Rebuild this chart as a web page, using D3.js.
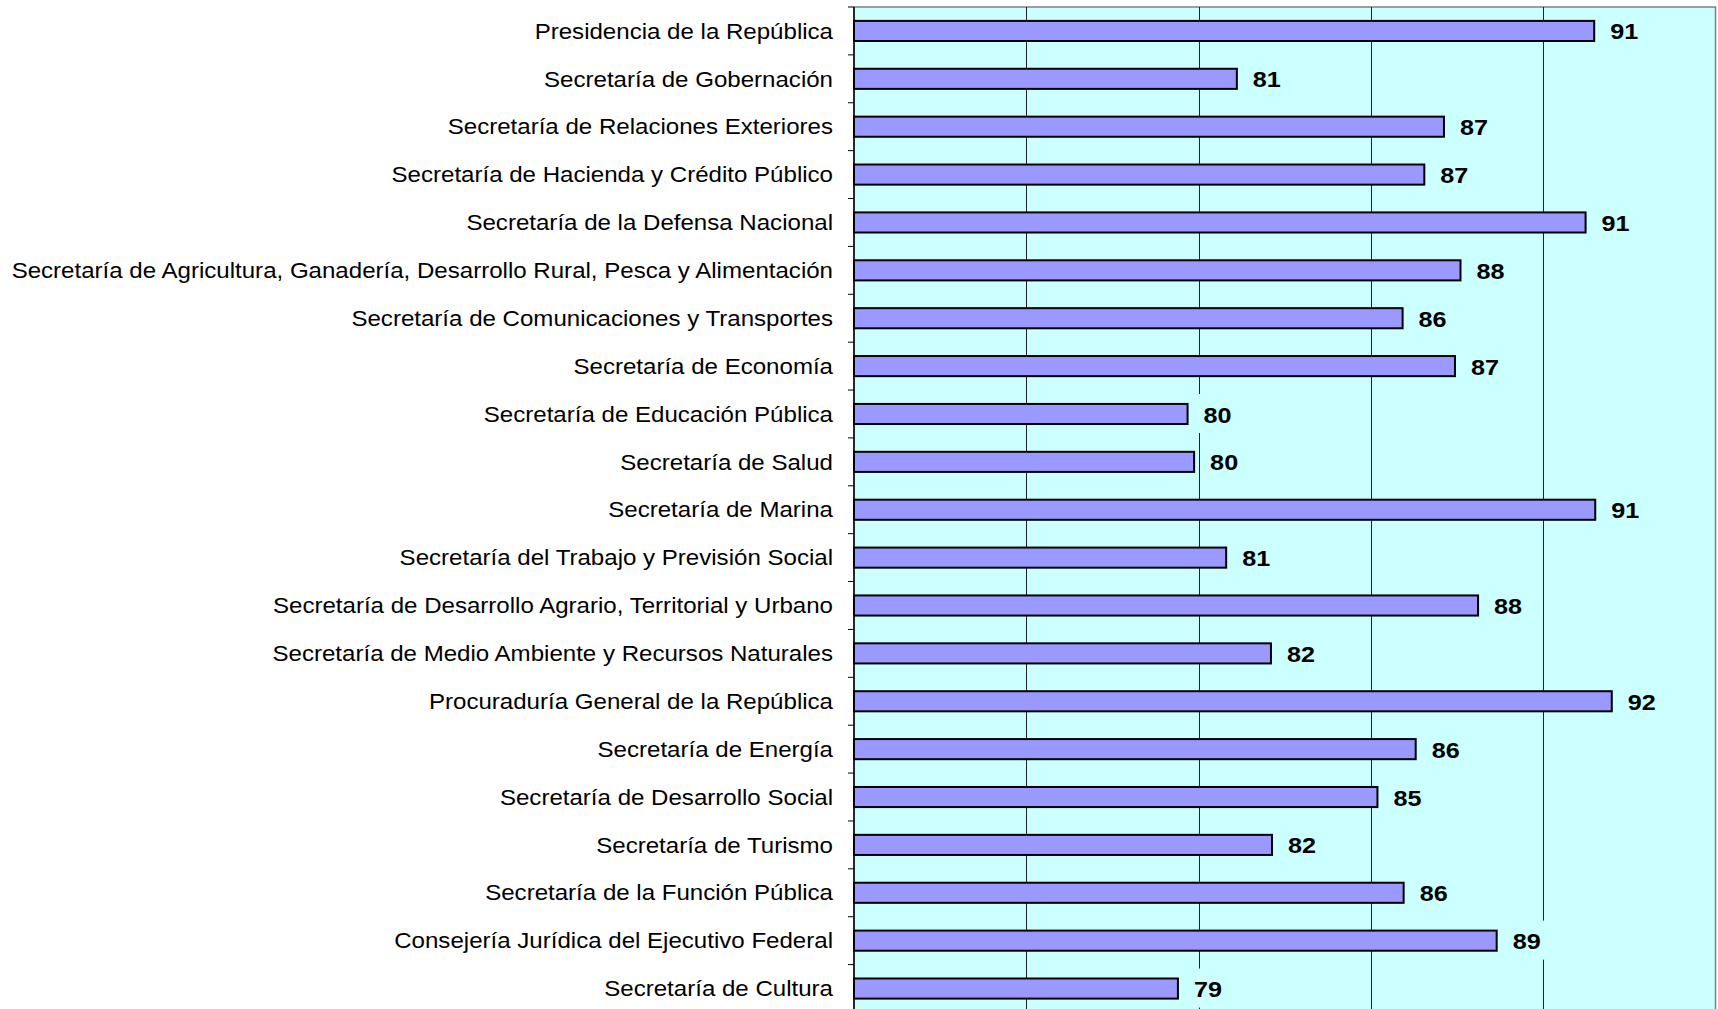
<!DOCTYPE html>
<html>
<head>
<meta charset="utf-8">
<script src="https://cdn.jsdelivr.net/npm/d3@7"></script>
<style>
  body { margin: 0; background: #fff; }
  svg { display: block; }
  text { font-family: Arial, "Liberation Sans", sans-serif; }
</style>
</head>
<body>
<script>
// data (labels are the rounded values)
let categories = [
    "Presidencia de la República",
    "Secretaría de Gobernación",
    "Secretaría de Relaciones Exteriores",
    "Secretaría de Hacienda y Crédito Público",
    "Secretaría de la Defensa Nacional",
    "Secretaría de Agricultura, Ganadería, Desarrollo Rural, Pesca y Alimentación",
    "Secretaría de Comunicaciones y Transportes",
    "Secretaría de Economía",
    "Secretaría de Educación Pública",
    "Secretaría de Salud",
    "Secretaría de Marina",
    "Secretaría del Trabajo y Previsión Social",
    "Secretaría de Desarrollo Agrario, Territorial y Urbano",
    "Secretaría de Medio Ambiente y Recursos Naturales",
    "Procuraduría General de la República",
    "Secretaría de Energía",
    "Secretaría de Desarrollo Social",
    "Secretaría de Turismo",
    "Secretaría de la Función Pública",
    "Consejería Jurídica del Ejecutivo Federal",
    "Secretaría de Cultura"
];

let values = [91.48, 81.11, 87.12, 86.55, 91.23, 87.60, 85.92, 87.44, 79.68, 79.87,
    91.51, 80.80, 88.11, 82.10, 91.99, 86.30, 85.19, 82.13, 85.95, 88.65, 79.40];

let labels = [91, 81, 87, 87, 91, 88, 86, 87, 80, 80, 91, 81, 88, 82, 92, 86, 85, 82, 86, 89, 79];

let gridValues = [75, 80, 85, 90];

let svgWidth = 1718;
let svgHeight = 1009;

// text in the original is a bit wider than plain Arial
let stretch = 1.095;

let plot = { left: 854, top: 7, right: 1715.5, bandH: 47.88 };
plot.bottom = plot.top + categories.length * plot.bandH;

let x = d3.scaleLinear()
    .domain([70, 95])
    .range([plot.left, plot.right]);

let y = d3.scaleBand()
    .domain(categories)
    .range([plot.top, plot.bottom])
    .paddingInner(0.58)
    .paddingOuter(0.29);

let svg = d3.select("body")
    .append("svg")
    .attr("width", svgWidth)
    .attr("height", svgHeight);

// plot background
svg.append("rect")
    .attr("x", plot.left)
    .attr("y", plot.top)
    .attr("width", plot.right - plot.left)
    .attr("height", plot.bottom - plot.top)
    .attr("fill", "#CCFFFF")
    .attr("stroke", "#808080")
    .attr("stroke-width", 1.5);

// vertical gridlines
svg.selectAll(".grid")
    .data(gridValues)
    .enter()
    .append("line")
    .attr("class", "grid")
    .attr("x1", d => Math.round(x(d)) + 0.5)
    .attr("x2", d => Math.round(x(d)) + 0.5)
    .attr("y1", plot.top)
    .attr("y2", plot.bottom)
    .attr("stroke", "#222")
    .attr("stroke-width", 1);

// bars
svg.selectAll(".bar")
    .data(values)
    .enter()
    .append("rect")
    .attr("class", "bar")
    .attr("x", x(70))
    .attr("y", (d, i) => y(categories[i]))
    .attr("width", d => x(d) - x(70))
    .attr("height", y.bandwidth())
    .attr("fill", "#9999FF")
    .attr("stroke", "#000")
    .attr("stroke-width", 2);

// value labels, each on a cyan box that hides the gridlines behind it
let vals = svg.selectAll(".val")
    .data(values)
    .enter()
    .append("g")
    .attr("class", "val")
    .attr("transform", (d, i) => "translate(" + (x(d) + 16) + "," + (y(categories[i]) + y.bandwidth() / 2) + ")");

vals.append("rect")
    .attr("x", -8)
    .attr("y", -20)
    .attr("width", 40)
    .attr("height", 39)
    .attr("fill", "#CCFFFF");

vals.append("text")
    .attr("transform", "scale(1.12,1)")
    .attr("dy", "0.38em")
    .attr("font-size", 22.5)
    .attr("font-weight", "bold")
    .attr("fill", "#000")
    .text((d, i) => labels[i]);

// category axis: labels at band centres, ticks at band edges
let yAxis = d3.axisLeft(y).tickSize(0).tickPadding(0);
let gAxis = svg.append("g")
    .attr("transform", "translate(" + plot.left + ",0)")
    .call(yAxis);
gAxis.select(".domain").remove();
gAxis.selectAll("text")
    .attr("x", -21 / stretch)
    .attr("dy", "0.35em")
    .attr("transform", "scale(" + stretch + ",1)")
    .attr("font-size", 22)
    .attr("font-family", "Arial, 'Liberation Sans', sans-serif")
    .attr("fill", "#000");

let edges = d3.range(categories.length + 1).map(i => plot.top + i * plot.bandH);
svg.selectAll(".tick-edge")
    .data(edges)
    .enter()
    .append("line")
    .attr("class", "tick-edge")
    .attr("x1", plot.left - 6)
    .attr("x2", plot.left)
    .attr("y1", d => d)
    .attr("y2", d => d)
    .attr("stroke", "#000")
    .attr("stroke-width", 1);

svg.append("line")
    .attr("x1", plot.left)
    .attr("x2", plot.left)
    .attr("y1", plot.top)
    .attr("y2", plot.bottom)
    .attr("stroke", "#000")
    .attr("stroke-width", 1.5);
</script>
</body>
</html>
